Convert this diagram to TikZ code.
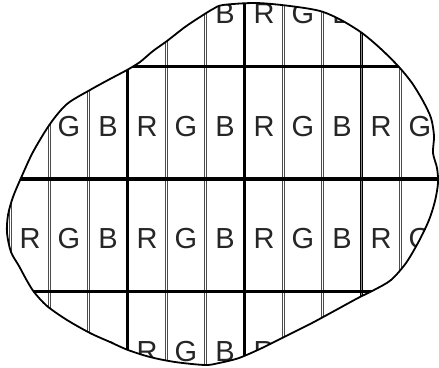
\documentclass[tikz,border=0pt]{standalone}
\usepackage{fontspec}
\setmainfont{Liberation Sans}
\begin{document}
\begin{tikzpicture}[x=1pt,y=-1pt,
  subline/.style={draw=black!70,line width=0.9pt,double=white,double distance=1.4pt},
  darkline/.style={draw=black,line width=1.1pt,double=black!45,double distance=1.1pt},
  pixline/.style={draw=black,line width=3.1pt},
  outline/.style={draw=black,line width=1.8pt},
  lbl/.style={font=\fontsize{29}{29}\selectfont,anchor=base,inner sep=0pt,text=black!85}]
\useasboundingbox (0,0) rectangle (439,367);
\def\blob{plot[smooth cycle,tension=0.5] coordinates{
(223,5) (256,3) (290,6) (320,11) (341,20) (362,33) (381,49) (399,67) (412,83)
(423,101) (431,118) (434,136) (433,153) (437,168) (438,183) (435,201) (429,220)
(419,241) (406,263) (391,280) (374,290) (358,298) (336,310) (312,323) (286,336)
(262,348) (239,358) (219,363) (205,365) (175,362) (150,357) (128,350) (110,342)
(90,333) (67,320) (47,306) (34,292) (26,279) (19,266) (11,252) (7,233) (8,215)
(13,197) (21,178) (33,152) (50,124) (67,104) (90,90) (110,79) (127,70) (140,62)
(153,51) (167,41) (185,27) (200,17) (213,9)}}
\begin{scope}
  \clip \blob;
  % subpixel boundaries
  \foreach \k in {0,1,2,4,5,7,8,10,11}
    \draw[subline] ({10.5+39*\k},-50) -- ({10.5+39*\k},410);
  \draw[darkline] (361.5,-50) -- (361.5,410);
  % pixel boundaries
  \foreach \k in {3,6}
    \draw[pixline] ({10.5+39*\k},-50) -- ({10.5+39*\k},410);
  \foreach \yy in {66.5,179,291.5}
    \draw[pixline] (-10,\yy) -- (450,\yy);
  % labels
  \foreach \j/\yc in {0/10.25,1/122.75,2/235.25,3/347.75}
    \foreach \k in {0,...,10}{
      \pgfmathtruncatemacro\m{mod(\k,3)}
      \node[lbl] (L\k-\j) at ({30+39*\k},{\yc+13.5}) {\ifcase\m R\or G\or B\fi};
    }
\end{scope}
\draw[outline] \blob;
\end{tikzpicture}
\end{document}
